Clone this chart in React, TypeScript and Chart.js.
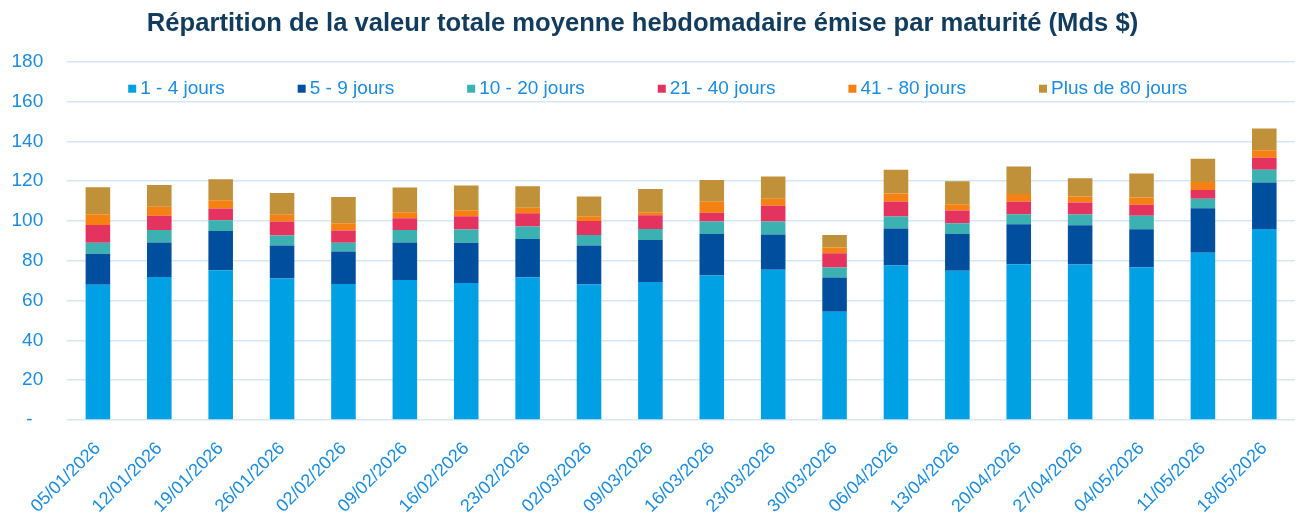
import React, { useEffect, useRef } from "react";
import { Chart, registerables } from "chart.js";

Chart.register(...registerables);

const FONT = '"Liberation Sans", Arial, Helvetica, sans-serif';
const TEXT_BLUE = "#1b8ce0";
const TITLE_NAVY = "#123c5e";
const GRID_BLUE = "#d4e7f7";

const weeks = [
  "05/01/2026", "12/01/2026", "19/01/2026", "26/01/2026", "02/02/2026",
  "09/02/2026", "16/02/2026", "23/02/2026", "02/03/2026", "09/03/2026",
  "16/03/2026", "23/03/2026", "30/03/2026", "06/04/2026", "13/04/2026",
  "20/04/2026", "27/04/2026", "04/05/2026", "11/05/2026", "18/05/2026",
];

// Average weekly issued value by maturity bucket (billions $)
const days1to4 = [68.0, 71.8, 75.3, 71.1, 68.3, 70.4, 68.8, 71.6, 68.1, 69.4, 72.6, 75.5, 54.4, 77.6, 75.0, 78.3, 78.1, 76.8, 84.0, 96.0];
const days5to9 = [15.5, 17.4, 19.7, 16.6, 16.3, 18.8, 20.2, 19.3, 19.6, 21.0, 20.8, 17.7, 17.2, 18.6, 18.4, 20.1, 19.8, 19.1, 22.4, 23.3];
const days10to20 = [5.5, 6.2, 5.4, 5.0, 4.4, 6.2, 6.7, 6.3, 5.3, 5.6, 6.3, 6.5, 5.0, 6.0, 5.5, 5.0, 5.3, 6.7, 4.8, 6.4];
const days21to40 = [9.0, 7.2, 5.8, 7.0, 6.2, 6.0, 6.7, 6.7, 7.0, 6.9, 4.4, 7.9, 7.2, 7.4, 6.3, 6.2, 6.1, 5.6, 4.4, 6.1];
const days41to80 = [5.4, 4.5, 4.2, 3.4, 3.7, 3.0, 3.0, 2.8, 2.4, 1.5, 5.5, 3.5, 2.9, 4.2, 3.2, 3.9, 3.0, 3.6, 4.0, 3.7];
const over80days = [13.5, 11.0, 10.6, 10.9, 13.2, 12.4, 12.4, 10.8, 9.9, 11.7, 11.0, 11.2, 6.2, 11.9, 11.6, 13.8, 9.2, 12.0, 11.7, 10.9];

const seriesLabels = ["1 - 4 jours", "5 - 9 jours", "10 - 20 jours", "21 - 40 jours", "41 - 80 jours", "Plus de 80 jours"];
const seriesColors = ["#00a1e4", "#004f9e", "#3cb1b1", "#e5335f", "#f58112", "#c1913a"];
const seriesValues = [days1to4, days5to9, days10to20, days21to40, days41to80, over80days];

const TITLE = "Répartition de la valeur totale moyenne hebdomadaire émise par maturité (Mds $)";

// Legend drawn as a single row inside the plot, below the top gridline
const inlineLegend = {
  id: "inlineLegend",
  afterDatasetsDraw(chart: any) {
    const { ctx, chartArea } = chart;
    ctx.save();
    ctx.font = `19px ${FONT}`;
    ctx.textBaseline = "middle";
    ctx.textAlign = "left";
    let x = chartArea.left + 61;
    const y = chartArea.top + 27;
    chart.data.datasets.forEach((ds: any) => {
      ctx.fillStyle = ds.backgroundColor;
      ctx.fillRect(x, y - 4, 8, 8);
      ctx.fillStyle = TEXT_BLUE;
      ctx.fillText(ds.label, x + 12, y);
      x += 12 + ctx.measureText(ds.label).width + 73;
    });
    ctx.restore();
  },
};

export default function App() {
  const canvasRef = useRef<HTMLCanvasElement | null>(null);

  useEffect(() => {
    if (!canvasRef.current) return;
    const chart = new Chart(canvasRef.current, {
      type: "bar",
      data: {
        labels: weeks,
        datasets: seriesLabels.map((label, i) => ({
          label,
          data: seriesValues[i],
          backgroundColor: seriesColors[i],
          borderWidth: 0,
          categoryPercentage: 1,
          barPercentage: 0.4,
        })),
      },
      options: {
        animation: false,
        responsive: true,
        maintainAspectRatio: false,
        layout: { padding: { left: -10, right: 5, top: 0, bottom: 0 } },
        plugins: {
          legend: { display: false },
          tooltip: { enabled: false },
          title: {
            display: true,
            text: TITLE,
            color: TITLE_NAVY,
            font: { family: FONT, size: 25.6, weight: "bold", lineHeight: 1.2 },
            padding: { top: 9, bottom: 22 },
          },
        },
        scales: {
          x: {
            stacked: true,
            grid: { display: false },
            border: { display: false },
            afterFit: (scale: any) => {
              // rotated date labels may hang into the left margin
              scale.paddingLeft = 0;
              // keep a single tick padding above the labels
              scale.height -= 9;
            },
            ticks: {
              color: TEXT_BLUE,
              font: { family: FONT, size: 18 },
              maxRotation: 45,
              minRotation: 45,
              autoSkip: false,
              padding: 10,
            },
          },
          y: {
            stacked: true,
            min: 0,
            max: 180,
            grid: { color: GRID_BLUE, lineWidth: 1.5, drawTicks: false },
            border: { display: false },
            afterFit: (scale: any) => {
              scale.width -= 2.5;
            },
            ticks: {
              stepSize: 20,
              color: TEXT_BLUE,
              font: { family: FONT, size: 19 },
              padding: 24,
              callback: (v: any) => (Number(v) === 0 ? "-  " : String(v)),
            },
          },
        },
      },
      plugins: [inlineLegend],
    });
    return () => chart.destroy();
  }, []);

  return (
    <div style={{ position: "absolute", left: 0, top: 0, width: 1300, height: 518, background: "#fff" }}>
      <canvas ref={canvasRef} />
    </div>
  );
}
